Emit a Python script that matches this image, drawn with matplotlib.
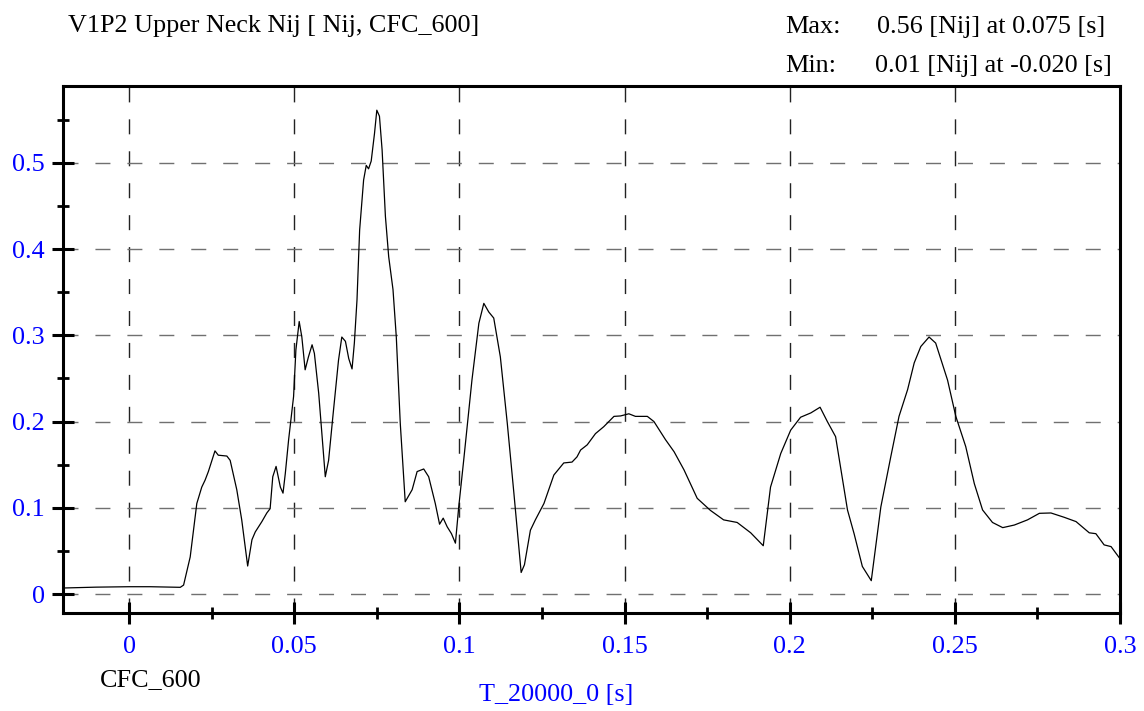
import numpy as np
import matplotlib.pyplot as plt
from matplotlib.ticker import MultipleLocator

plt.rcParams['font.family'] = ['Liberation Serif', 'DejaVu Serif']

# Czas [s] i wartości Nij
t = [-0.020, -0.010, 0.000, 0.0064, 0.0155, 0.0165, 0.0185, 0.0205, 0.022, 0.023,
     0.024, 0.026, 0.027, 0.0296, 0.0306, 0.0326, 0.0341, 0.0359, 0.0372, 0.0382,
     0.0402, 0.0417, 0.0427, 0.0435, 0.0445, 0.0458, 0.0466, 0.0473, 0.0483, 0.0498,
     0.0505, 0.0515, 0.0523, 0.0533, 0.0543, 0.0554, 0.0561, 0.0574, 0.0594, 0.0604,
     0.0617, 0.0634, 0.0644, 0.0655, 0.0665, 0.0675, 0.0682, 0.069, 0.0698, 0.071,
     0.0718, 0.0725, 0.0733, 0.0743, 0.075, 0.0758, 0.0766, 0.0776, 0.0786, 0.0799,
     0.0809, 0.0821, 0.0836, 0.0857, 0.0872, 0.0892, 0.0907, 0.0927, 0.094, 0.0951,
     0.0963, 0.0976, 0.0988, 0.0998, 0.1013, 0.1038, 0.1059, 0.1074, 0.1089, 0.1104,
     0.1124, 0.1145, 0.1165, 0.1187, 0.1197, 0.1215, 0.123, 0.1256, 0.1286, 0.1316,
     0.1341, 0.1356, 0.1367, 0.1387, 0.1412, 0.1437, 0.1468, 0.1488, 0.1513, 0.1533,
     0.1569, 0.1589, 0.1624, 0.1650, 0.168, 0.172, 0.176, 0.180, 0.1841, 0.1882,
     0.192, 0.1942, 0.1973, 0.2003, 0.2033, 0.2064, 0.2092, 0.2114, 0.2139, 0.2175,
     0.2195, 0.222, 0.2247, 0.2276, 0.2306, 0.2331, 0.2357, 0.2377, 0.2397, 0.2422,
     0.2442, 0.2478, 0.2503, 0.2533, 0.2559, 0.2584, 0.2614, 0.2645, 0.268, 0.272,
     0.2756, 0.2791, 0.2831, 0.2867, 0.2907, 0.2927, 0.2952, 0.2973, 0.300]
nij = [0.007, 0.008, 0.0085, 0.0085, 0.0078, 0.0104, 0.043, 0.105, 0.124, 0.132,
       0.142, 0.166, 0.161, 0.160, 0.155, 0.121, 0.086, 0.0325, 0.063, 0.072,
       0.084, 0.094, 0.099, 0.136, 0.148, 0.124, 0.117, 0.140, 0.179, 0.229,
       0.283, 0.316, 0.298, 0.260, 0.275, 0.289, 0.279, 0.233, 0.136, 0.155,
       0.206, 0.271, 0.298, 0.293, 0.273, 0.261, 0.291, 0.341, 0.422, 0.480,
       0.497, 0.493, 0.502, 0.534, 0.561, 0.554, 0.515, 0.438, 0.391, 0.353,
       0.298, 0.198, 0.107, 0.121, 0.142, 0.145, 0.136, 0.105, 0.081, 0.088,
       0.078, 0.070, 0.059, 0.101, 0.155, 0.248, 0.314, 0.337, 0.327, 0.320,
       0.275, 0.198, 0.117, 0.025, 0.034, 0.074, 0.086, 0.105, 0.138, 0.152,
       0.153, 0.159, 0.167, 0.173, 0.186, 0.194, 0.206, 0.2065, 0.209, 0.206,
       0.206, 0.200, 0.179, 0.165, 0.144, 0.111, 0.097, 0.086, 0.083, 0.071,
       0.056, 0.124, 0.163, 0.190, 0.205, 0.210, 0.2166, 0.200, 0.1825, 0.0975,
       0.070, 0.032, 0.0155, 0.101, 0.159, 0.206, 0.237, 0.268, 0.287, 0.298,
       0.291, 0.248, 0.206, 0.171, 0.128, 0.0975, 0.083, 0.077, 0.080, 0.086,
       0.0936, 0.094, 0.089, 0.084, 0.071, 0.070, 0.057, 0.055, 0.041]

x_ticks = [0, 0.05, 0.1, 0.15, 0.2, 0.25, 0.3]
x_labels = ['0', '0.05', '0.1', '0.15', '0.2', '0.25', '0.3']
y_ticks = [0, 0.1, 0.2, 0.3, 0.4, 0.5]
y_labels = ['0', '0.1', '0.2', '0.3', '0.4', '0.5']

blue = '#0000ff'
fs = 18.8
H = 711.0

fig = plt.figure(figsize=(11.44, 7.11), dpi=100)
ax = fig.add_axes([0.0551, 0.1378, 0.9239, 0.7412])

ax.plot(t, nij, color='black', lw=0.9, zorder=3)

ax.set_xlim(-0.02, 0.3)
ax.set_ylim(-0.022, 0.589)

ax.set_xticks(x_ticks)
ax.set_xticklabels(x_labels)
ax.set_yticks(y_ticks)
ax.set_yticklabels(y_labels)
ax.xaxis.set_minor_locator(MultipleLocator(0.025))
ax.yaxis.set_minor_locator(MultipleLocator(0.05))

ax.tick_params(which='major', direction='inout', length=16.5, width=2.2,
               labelsize=fs, labelcolor=blue)
ax.tick_params(axis='x', which='major', pad=8.5)
ax.tick_params(axis='y', which='major', pad=5)
ax.tick_params(which='minor', direction='inout', length=8.3, width=2.0)

for s in ax.spines.values():
    s.set_linewidth(2.2)

# siatka
for xv in x_ticks:
    ax.axvline(xv, color='#222222', lw=1.0, ls=(0, (10.8, 12.2)), zorder=1)
for yv in y_ticks:
    ax.axhline(yv, color='#707070', lw=1.0, ls=(0, (10.8, 12.2)), zorder=1)

# opisy
fig.text(68 / 1144, 1 - 32 / H, 'V1P2 Upper Neck Nij [ Nij, CFC_600]',
         fontsize=fs, va='baseline', ha='left')
fig.text(785 / 1144, 1 - 33 / H, 'Max:', fontsize=fs, va='baseline', ha='left')
fig.text(877 / 1144, 1 - 33 / H, '0.56 [Nij] at 0.075 [s]',
         fontsize=fs, va='baseline', ha='left')
fig.text(785 / 1144, 1 - 72 / H, 'Min:', fontsize=fs, va='baseline', ha='left')
fig.text(875 / 1144, 1 - 72 / H, '0.01 [Nij] at -0.020 [s]',
         fontsize=fs, va='baseline', ha='left')
fig.text(100 / 1144, 1 - 686 / H, 'CFC_600', fontsize=fs, va='baseline', ha='left')
fig.text(556 / 1144, 1 - 701 / H, 'T_20000_0 [s]', fontsize=fs,
         va='baseline', ha='center', color=blue)

fig.savefig('out.png', dpi=100)
